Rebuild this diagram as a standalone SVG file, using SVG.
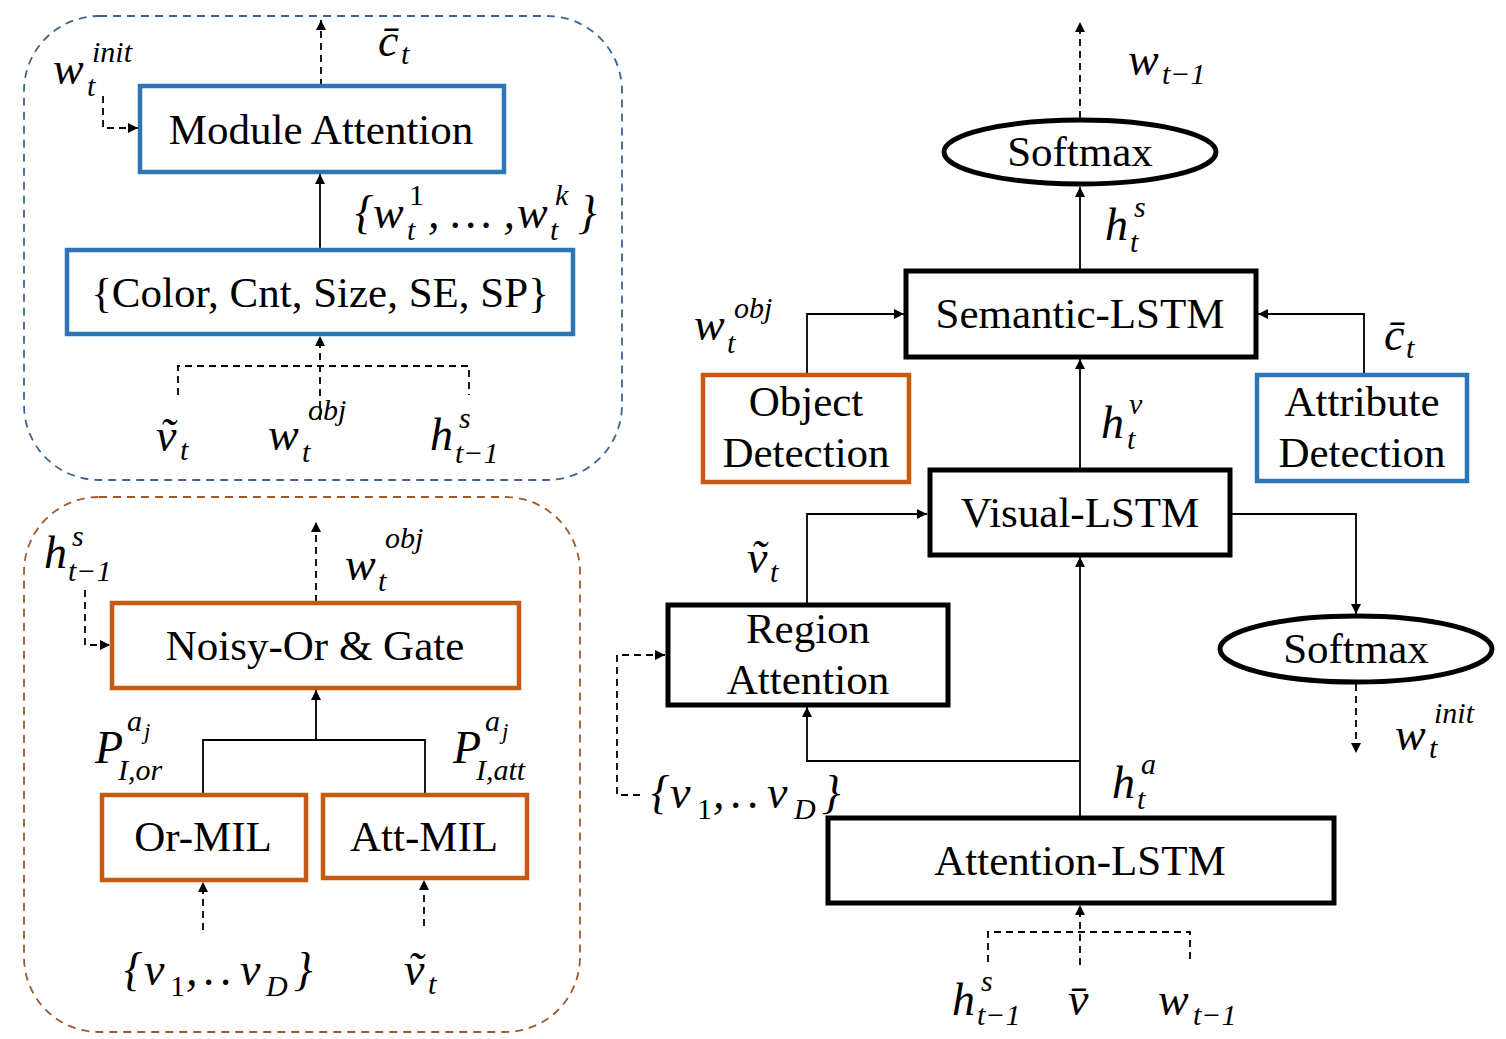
<svg xmlns="http://www.w3.org/2000/svg" width="1506" height="1039" viewBox="0 0 1506 1039">
<defs>
<marker id="ah" viewBox="0 0 10 10" refX="10" refY="5" markerWidth="10" markerHeight="10" markerUnits="userSpaceOnUse" orient="auto">
<path d="M0,0 L10,5 L0,10 z" fill="#000"/>
</marker>
<style>
.box{fill:#fff;stroke-width:4.5}
.blue{stroke:#2E75B6}
.orange{stroke:#C55A11}
.black{stroke:#000;stroke-width:5}
.lbl{font-family:"Liberation Serif","Times New Roman",serif;font-size:43px;fill:#000;text-anchor:middle}
.m{font-family:"Liberation Serif","DejaVu Serif",serif;font-style:italic;font-size:46px;fill:#000}
.s{font-style:italic;font-size:30px}
.r{font-style:normal;font-size:30px}
.mm{font-size:46px}
.ln{fill:none;stroke:#000;stroke-width:1.8}
.dash{fill:none;stroke:#000;stroke-width:1.8;stroke-dasharray:7 5}
</style>
</defs>
<rect width="1506" height="1039" fill="#fff"/>

<g id="panel-attribute">
<rect x="24" y="16" width="598" height="464" rx="75" ry="75" fill="none" stroke="#3D6591" stroke-width="1.8" stroke-dasharray="8 6"/>
</g>
<g id="panel-object">
<rect x="24" y="497" width="556" height="535" rx="75" ry="75" fill="none" stroke="#9E5A2A" stroke-width="1.8" stroke-dasharray="8 6"/>
</g>

<g id="connectors">
<path class="dash" d="M321,86 V20" marker-end="url(#ah)"/>
<path class="dash" d="M103,96 V128 H138" marker-end="url(#ah)"/>
<path class="ln" d="M320,250 V174" marker-end="url(#ah)"/>
<path class="dash" d="M178,395 V366 H469 V395"/>
<path class="dash" d="M320,420 V336" marker-end="url(#ah)"/>
<path class="dash" d="M85,590 V645 H110" marker-end="url(#ah)"/>
<path class="dash" d="M316,602 V522" marker-end="url(#ah)"/>
<path class="ln" d="M203,794 V740 H425 V794"/>
<path class="ln" d="M316,740 V690" marker-end="url(#ah)"/>
<path class="dash" d="M203,930 V882" marker-end="url(#ah)"/>
<path class="dash" d="M424,926 V880" marker-end="url(#ah)"/>
<path class="dash" d="M1080,118 V22" marker-end="url(#ah)"/>
<path class="ln" d="M1080,270 V187" marker-end="url(#ah)"/>
<path class="ln" d="M807,374 V314 H904" marker-end="url(#ah)"/>
<path class="ln" d="M1364,374 V314 H1258" marker-end="url(#ah)"/>
<path class="ln" d="M1080,469 V359" marker-end="url(#ah)"/>
<path class="ln" d="M807,605 V514 H927" marker-end="url(#ah)"/>
<path class="ln" d="M1232,514 H1356 V614" marker-end="url(#ah)"/>
<path class="dash" d="M1356,684 V753" marker-end="url(#ah)"/>
<path class="ln" d="M1080,817 V557" marker-end="url(#ah)"/>
<path class="ln" d="M1080,761 H807 V707" marker-end="url(#ah)"/>
<path class="dash" d="M640,795 H617 V655 H665" marker-end="url(#ah)"/>
<path class="dash" d="M988,962 V932 H1190 V962"/>
<path class="dash" d="M1080,965 V905" marker-end="url(#ah)"/>
</g>

<g id="module-attention">
<rect class="box blue" x="140" y="86" width="364" height="86"/>
<text class="lbl" x="321" y="144">Module Attention</text>
</g>
<g id="attribute-modules">
<rect class="box blue" x="67" y="250" width="506" height="84"/>
<text class="lbl" x="320" y="307">{Color, Cnt, Size, SE, SP}</text>
</g>
<g id="noisy-or-gate">
<rect class="box orange" x="112" y="603" width="407" height="85"/>
<text class="lbl" x="315" y="660">Noisy-Or &amp; Gate</text>
</g>
<g id="or-mil">
<rect class="box orange" x="102" y="795" width="204" height="85"/>
<text class="lbl" x="203" y="851">Or-MIL</text>
</g>
<g id="att-mil">
<rect class="box orange" x="323" y="795" width="204" height="83"/>
<text class="lbl" x="424" y="851">Att-MIL</text>
</g>
<g id="softmax-top">
<ellipse cx="1080" cy="152" rx="136" ry="32" fill="#fff" stroke="#000" stroke-width="5"/>
<text class="lbl" x="1080" y="166">Softmax</text>
</g>
<g id="semantic-lstm">
<rect class="box black" x="906" y="271" width="350" height="86"/>
<text class="lbl" x="1080" y="328">Semantic-LSTM</text>
</g>
<g id="object-detection">
<rect class="box orange" x="703" y="375" width="206" height="107"/>
<text class="lbl" x="806" y="416">Object</text>
<text class="lbl" x="806" y="467">Detection</text>
</g>
<g id="attribute-detection">
<rect class="box blue" x="1257" y="375" width="210" height="106"/>
<text class="lbl" x="1362" y="416">Attribute</text>
<text class="lbl" x="1362" y="467">Detection</text>
</g>
<g id="visual-lstm">
<rect class="box black" x="930" y="470" width="300" height="85"/>
<text class="lbl" x="1080" y="527">Visual-LSTM</text>
</g>
<g id="region-attention">
<rect class="box black" x="668" y="605" width="280" height="100"/>
<text class="lbl" x="808" y="643">Region</text>
<text class="lbl" x="808" y="694">Attention</text>
</g>
<g id="softmax-right">
<ellipse cx="1356" cy="649" rx="136" ry="33" fill="#fff" stroke="#000" stroke-width="5"/>
<text class="lbl" x="1356" y="663">Softmax</text>
</g>
<g id="attention-lstm">
<rect class="box black" x="828" y="818" width="506" height="85"/>
<text class="lbl" x="1080" y="875">Attention-LSTM</text>
</g>

<g id="labels">
<text class="m" x="378" y="56">c̄<tspan class="s" x="401" y="64">t</tspan></text>
<text class="m" x="53" y="84">w<tspan class="s" x="87" y="96">t</tspan><tspan class="s" x="92" y="62">init</tspan></text>
<text class="m" x="355" y="228">{<tspan x="373">w</tspan><tspan class="s" x="407" y="240">t</tspan><tspan class="r" x="409" y="205">1</tspan><tspan class="mm" x="428" y="228">, … ,</tspan><tspan class="mm" x="517" y="228">w</tspan><tspan class="s" x="550" y="240">t</tspan><tspan class="s" x="555" y="205">k</tspan><tspan class="mm" x="578" y="228">}</tspan></text>
<text class="m" x="156" y="451">ṽ<tspan class="s" x="180" y="460">t</tspan></text>
<text class="m" x="268" y="450">w<tspan class="s" x="302" y="462">t</tspan><tspan class="s" x="308" y="420">obj</tspan></text>
<text class="m" x="430" y="450">h<tspan class="s" x="455" y="463">t−1</tspan><tspan class="s" x="459" y="428">s</tspan></text>

<text class="m" x="44" y="568">h<tspan class="s" x="68" y="581">t−1</tspan><tspan class="s" x="72" y="546">s</tspan></text>
<text class="m" x="345" y="580">w<tspan class="s" x="378" y="591">t</tspan><tspan class="s" x="385" y="548">obj</tspan></text>
<text class="m" x="95" y="763">P<tspan class="s" x="118" y="780">I,or</tspan><tspan class="s" x="127" y="731">a</tspan><tspan class="s" x="144" y="739" style="font-size:23px">j</tspan></text>
<text class="m" x="453" y="763">P<tspan class="s" x="476" y="780">I,att</tspan><tspan class="s" x="485" y="731">a</tspan><tspan class="s" x="502" y="739" style="font-size:23px">j</tspan></text>
<text class="m" x="124" y="985">{<tspan x="144">v</tspan><tspan class="r" x="170" y="996">1</tspan><tspan class="mm" x="186" y="985">,</tspan><tspan class="mm" x="204" y="985">.</tspan><tspan class="mm" x="221" y="985">.</tspan><tspan class="mm" x="240" y="985">v</tspan><tspan class="s" x="266" y="996">D</tspan><tspan class="mm" x="294" y="985">}</tspan></text>
<text class="m" x="404" y="985">ṽ<tspan class="s" x="428" y="994">t</tspan></text>

<text class="m" x="1128" y="75">w<tspan class="s" x="1162" y="84">t−1</tspan></text>
<text class="m" x="1105" y="240">h<tspan class="s" x="1130" y="252">t</tspan><tspan class="s" x="1134" y="217">s</tspan></text>
<text class="m" x="694" y="340">w<tspan class="s" x="727" y="353">t</tspan><tspan class="s" x="734" y="318">obj</tspan></text>
<text class="m" x="1384" y="350">c̄<tspan class="s" x="1406" y="358">t</tspan></text>
<text class="m" x="1101" y="438">h<tspan class="s" x="1127" y="449">t</tspan><tspan class="s" x="1129" y="414">v</tspan></text>
<text class="m" x="747" y="573">ṽ<tspan class="s" x="770" y="582">t</tspan></text>
<text class="m" x="1395" y="750">w<tspan class="s" x="1429" y="758">t</tspan><tspan class="s" x="1434" y="723">init</tspan></text>
<text class="m" x="1112" y="798">h<tspan class="s" x="1137" y="809">t</tspan><tspan class="s" x="1141" y="774">a</tspan></text>
<text class="m" x="651" y="808">{<tspan x="670">v</tspan><tspan class="r" x="697" y="819">1</tspan><tspan class="mm" x="713" y="808">,</tspan><tspan class="mm" x="731" y="808">.</tspan><tspan class="mm" x="748" y="808">.</tspan><tspan class="mm" x="767" y="808">v</tspan><tspan class="s" x="794" y="819">D</tspan><tspan class="mm" x="822" y="808">}</tspan></text>
<text class="m" x="952" y="1015">h<tspan class="s" x="977" y="1025">t−1</tspan><tspan class="s" x="981" y="991">s</tspan></text>
<text class="m" x="1068" y="1015">v̄</text>
<text class="m" x="1158" y="1015">w<tspan class="s" x="1193" y="1025">t−1</tspan></text>
</g>
</svg>
